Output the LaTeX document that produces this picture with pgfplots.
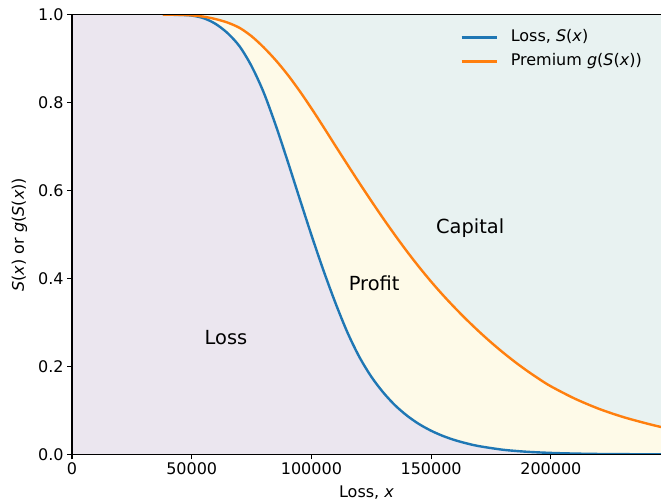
\documentclass[border=0pt]{standalone}
\usepackage{pgfplots}
\usepackage{pgfplotstable}
\pgfplotsset{compat=1.18}
\usepackage{fontspec}
\setmainfont{DejaVu Sans}

\definecolor{lossblue}{HTML}{1F77B4}
\definecolor{premorange}{HTML}{FF7F0E}
\definecolor{lossfill}{HTML}{EBE6EF}
\definecolor{profitfill}{HTML}{FEFAE8}
\definecolor{capitalfill}{HTML}{E8F2F1}

% Survival function of the loss, S(x)
\pgfplotstableread{
x S
0 1.0
38000 1.0
45000 0.9995
50000 0.998
55000 0.992
60000 0.979
65000 0.958
70000 0.928
75000 0.883
80000 0.824
85000 0.750
90000 0.668
95000 0.583
100000 0.499
105000 0.419
110000 0.345
115000 0.278
120000 0.222
125000 0.177
130000 0.141
135000 0.1115
140000 0.088
145000 0.069
150000 0.054
155000 0.042
160000 0.0325
165000 0.025
170000 0.019
180000 0.0108
190000 0.0062
200000 0.0036
210000 0.0021
220000 0.0012
235000 0.0006
246000 0.0003
}\losstable

% Distorted survival function, g(S(x))
\pgfplotstableread{
x G
0 1.0
38000 1.0
45000 0.9997
50000 0.9985
55000 0.9955
60000 0.990
65000 0.982
70000 0.970
75000 0.951
80000 0.926
85000 0.897
90000 0.864
95000 0.827
100000 0.787
105000 0.745
110000 0.702
115000 0.6595
120000 0.6175
125000 0.5765
130000 0.5365
135000 0.498
140000 0.461
145000 0.426
150000 0.393
155000 0.362
160000 0.333
165000 0.3055
170000 0.2795
175000 0.255
180000 0.232
185000 0.2105
190000 0.1905
195000 0.172
200000 0.155
210000 0.127
220000 0.104
230000 0.0855
240000 0.0705
246000 0.0625
}\premtable

\begin{document}
\begin{tikzpicture}
\begin{axis}[
  scale only axis,
  width=589pt, height=439.8pt,
  xmin=0, xmax=246000, ymin=0, ymax=1,
  axis x line*=box, axis y line*=left,
  xtick pos=left, ytick pos=left,
  tick align=outside,
  major tick length=4.9pt,
  xtick={0,50000,100000,150000,200000},
  ytick={0,0.2,0.4,0.6,0.8,1.0},
  scaled x ticks=false,
  xticklabel style={/pgf/number format/.cd, fixed, 1000 sep={}},
  yticklabel style={/pgf/number format/.cd, fixed, fixed zerofill, precision=1},
  /pgf/number format/assume math mode=true,
  tick style={black, line width=1.1pt},
  axis line style={black, line width=1.1pt},
  ticklabel style={font=\fontsize{16}{19}\selectfont},
  label style={font=\fontsize{16}{19}\selectfont},
  xlabel={Loss, \textit{x}},
  xlabel style={yshift=-4pt},
  ylabel={\textit{S}(\textit{x}) or \textit{g}(\textit{S}(\textit{x}))},
  ylabel style={yshift=4pt},
  axis background/.style={fill=capitalfill},
  axis on top,
  legend style={draw=none, fill=none, at={(0.659,0.966)}, anchor=north west,
    font=\fontsize{16}{19}\selectfont, inner sep=0pt, row sep=8.5pt,
    column sep=13pt,
    nodes={inner sep=0pt, text height=12pt, text depth=3.5pt}},
  legend cell align=left,
  legend image code/.code={\draw[#1] (0pt,0pt) -- (35pt,0pt);},
]
% shaded regions: capital (background), profit, loss
\addplot[draw=none, fill=profitfill, smooth, forget plot] table[x=x, y=G] {\premtable} \closedcycle;
\addplot[draw=none, fill=lossfill, smooth, forget plot] table[x=x, y=S] {\losstable} \closedcycle;

% curves
\addplot[lossblue, line width=2.4pt, smooth, restrict x to domain=38000:250000] table[x=x, y=S] {\losstable};
\addlegendentry{Loss, \textit{S}(\textit{x})}
\addplot[premorange, line width=2.4pt, smooth, restrict x to domain=38000:250000] table[x=x, y=G] {\premtable};
\addlegendentry{Premium \textit{g}(\textit{S}(\textit{x}))}

% region labels
\node[font=\fontsize{19.4}{23}\selectfont] at (axis cs:64300,0.265) {Loss};
\node[font=\fontsize{19.4}{23}\selectfont] at (axis cs:126200,0.39) {Profit};
\node[font=\fontsize{19.4}{23}\selectfont] at (axis cs:166300,0.515) {Capital};

\coordinate (bl) at (rel axis cs:0,0);
\coordinate (tr) at (rel axis cs:1,1);
\end{axis}
\pgfresetboundingbox
\path ([shift={(-72pt,-47.5pt)}]bl) rectangle ([shift={(0pt,14.7pt)}]tr);
\end{tikzpicture}
\end{document}
